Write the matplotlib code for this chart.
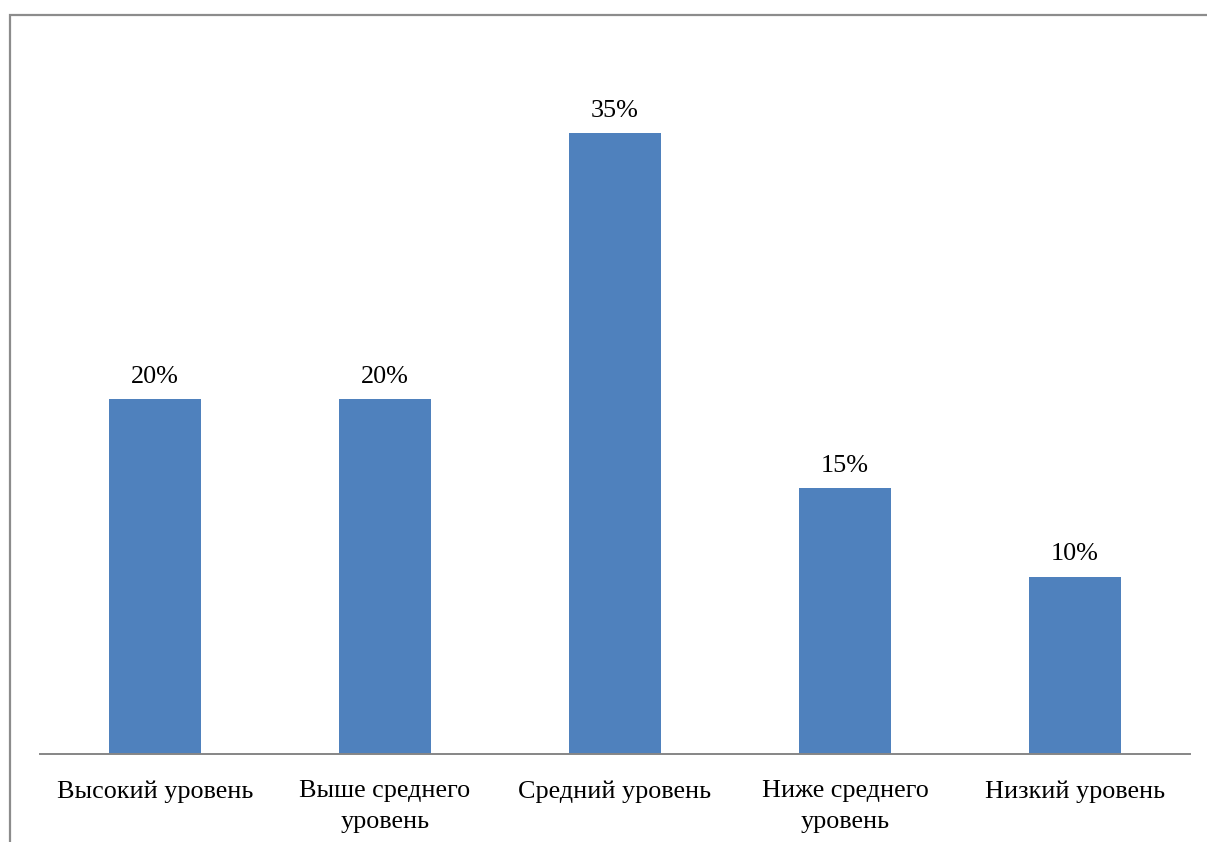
import matplotlib.pyplot as plt
from matplotlib.patches import Rectangle

categories = ['Высокий уровень', 'Выше среднего\nуровень', 'Средний уровень',
              'Ниже среднего\nуровень', 'Низкий уровень']
values = [20, 20, 35, 15, 10]

plt.rcParams['font.family'] = ['Liberation Serif', 'DejaVu Serif']

fig = plt.figure(figsize=(12.07, 8.42), dpi=100)
W, H = 1207, 842

# outer chart border (runs off the right/bottom edge like the source)
fig.patches.append(Rectangle((10 / W, -0.1), 1.1, (H - 15) / H + 0.1,
                             transform=fig.transFigure, fill=False,
                             edgecolor='#8c8c8c', linewidth=1.6))

ax = fig.add_axes([40 / W, (H - 754) / H, 1150 / W, 710 / H])
x = range(len(categories))
bars = ax.bar(x, values, width=0.4, color='#4f81bd')
ax.set_xlim(-0.5, len(categories) - 0.5)
ax.set_ylim(0, 40)

for b, v in zip(bars, values):
    ax.annotate(f'{v}%', (b.get_x() + b.get_width() / 2, v),
                xytext=(0, 8), textcoords='offset points',
                ha='center', va='bottom', fontsize=18.8)

ax.set_xticks(list(x))
ax.set_xticklabels(categories, fontsize=18.8, linespacing=1.5)
ax.tick_params(axis='x', length=0, pad=19)
ax.set_yticks([])
for s in ['top', 'right', 'left']:
    ax.spines[s].set_visible(False)
ax.spines['bottom'].set_color('#868686')
ax.spines['bottom'].set_linewidth(1.4)

fig.savefig('out.png', dpi=100)
